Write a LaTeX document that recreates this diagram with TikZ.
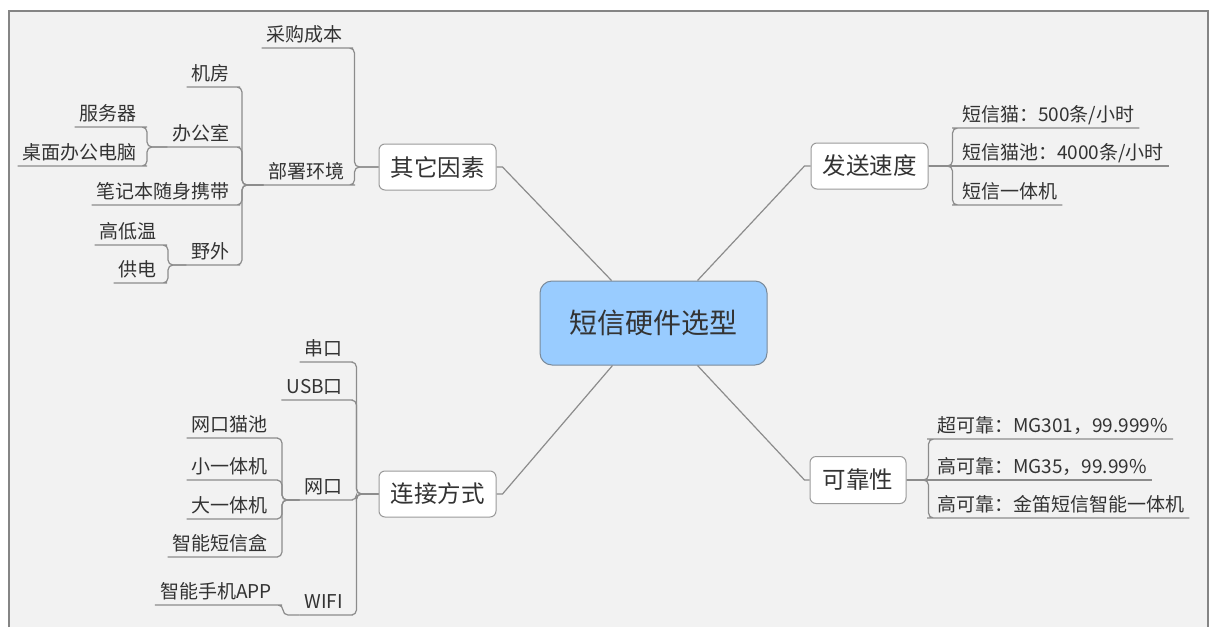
\documentclass[tikz,border=0pt]{standalone}
\usepackage{fontspec}
\setmainfont{Noto Sans CJK SC}
\usetikzlibrary{calc}
\definecolor{linec}{HTML}{8C8C8C}
\definecolor{boxc}{HTML}{9A9A9A}
\definecolor{txtc}{HTML}{333333}
\definecolor{rootfill}{HTML}{99CCFF}
\definecolor{rootline}{HTML}{7A8A9A}
\definecolor{bgc}{HTML}{F2F2F2}
\definecolor{framec}{HTML}{858585}
\begin{document}
\begin{tikzpicture}[x=1pt,y=-1pt,
  conn/.style={draw=linec, line width=1.2pt, rounded corners=5pt},
  mainconn/.style={draw=linec, line width=1.2pt},
  leaf/.style={inner xsep=5pt, inner ysep=3pt, text height=16pt, text depth=3pt,
    font=\fontsize{19}{19}\selectfont, text=txtc},
  topic/.style={draw=boxc, fill=white, rounded corners=6pt, line width=1pt,
    minimum width=117pt, minimum height=46pt, inner sep=0pt,
    font=\fontsize{23.5}{23.5}\selectfont, text=txtc},
  rootnode/.style={draw=rootline, fill=rootfill, rounded corners=12pt, line width=1pt,
    minimum width=227pt, minimum height=84pt, inner sep=0pt,
    font=\fontsize{28}{28}\selectfont, text=txtc}
]
\useasboundingbox (0,0) rectangle (1211,627);
% frame
\fill[bgc] (9,11) rectangle (1208,627);
\draw[framec, line width=1.2pt] (9,627) -- (9,11) -- (1208,11) -- (1208,627);

% root and main topics
\node[rootnode] (root) at (653.5,323) {短信硬件选型};
\node[topic] (b1) at (437.5,167) {其它因素};
\node[topic] (b2) at (869.5,166) {发送速度};
\node[topic] (b3) at (437.5,494) {连接方式};
\node[topic, minimum width=96pt, minimum height=47pt] (b4) at (858,480) {可靠性};

\draw[mainconn] ($(root.north west)+(72,0)$) -- ($(b1.east)+(6,0)$) -- (b1.east);
\draw[mainconn] ($(root.north east)+(-70,0)$) -- ($(b2.west)+(-6,0)$) -- (b2.west);
\draw[mainconn] ($(root.south west)+(73,0)$) -- ($(b3.east)+(6,0)$) -- (b3.east);
\draw[mainconn] ($(root.south east)+(-70,0)$) -- ($(b4.west)+(-5,0)$) -- (b4.west);

% ---- 其它因素
\node[leaf, anchor=south east] (c11) at (348,48) {采购成本};
\node[leaf, anchor=south east] (c12) at (350,185) {部署环境};
\draw[conn] (b1.west) -- ++(-24,0) |- (c11.south east) -- (c11.south west);
\draw[conn] (b1.west) -- ++(-24,0) |- (c12.south east) -- (c12.south west);

\node[leaf, anchor=south east] (c121) at (235,87) {机房};
\node[leaf, anchor=south east] (c122) at (235,147) {办公室};
\node[leaf, anchor=south east] (c123) at (235,205) {笔记本随身携带};
\node[leaf, anchor=south east] (c124) at (235,265) {野外};
\foreach \c in {c121,c122,c123,c124}
  \draw[conn] (c12.south west) -- (242,185) |- (\c.south east) -- (\c.south west);

\node[leaf, anchor=south east] (c1221) at (142,127) {服务器};
\node[leaf, anchor=south east] (c1222) at (142,166) {桌面办公电脑};
\foreach \c in {c1221,c1222}
  \draw[conn] (c122.south west) -- (147,147) |- (\c.south east) -- (\c.south west);

\node[leaf, anchor=south east] (c1241) at (162,245) {高低温};
\node[leaf, anchor=south east] (c1242) at (162,283) {供电};
\foreach \c in {c1241,c1242}
  \draw[conn] (c124.south west) -- (168,265) |- (\c.south east) -- (\c.south west);

% ---- 发送速度
\node[leaf, anchor=south west] (c21) at (957,128) {短信猫：500条/小时};
\node[leaf, anchor=south west] (c22) at (957,166) {短信猫池：4000条/小时};
\node[leaf, anchor=south west] (c23) at (957,205) {短信一体机};
\draw[conn] (b2.east) -- ++(24,0) |- (c21.south west) -- (c21.south east);
\draw[conn] (b2.east) -- (c22.south west) -- (c22.south east);
\draw[conn] (b2.east) -- ++(24,0) |- (c23.south west) -- (c23.south east);

% ---- 可靠性
\node[leaf, anchor=south west] (c41) at (932,439) {超可靠：MG301，99.999\%};
\node[leaf, anchor=south west] (c42) at (932,480) {高可靠：MG35，99.99\%};
\node[leaf, anchor=south west] (c43) at (932,518) {高可靠：金笛短信智能一体机};
\draw[conn] (b4.east) -- ++(22,0) |- (c41.south west) -- (c41.south east);
\draw[conn] (b4.east) -- (c42.south west) -- (c42.south east);
\draw[conn] (b4.east) -- ++(22,0) |- (c43.south west) -- (c43.south east);

% ---- 连接方式
\node[leaf, anchor=south east] (c31) at (348,362) {串口};
\node[leaf, anchor=south east] (c32) at (348,400) {USB口};
\node[leaf, anchor=south east] (c33) at (348,500) {网口};
\node[leaf, anchor=south east] (c34) at (348,615) {WIFI};
\foreach \c in {c31,c32,c33,c34}
  \draw[conn] (b3.west) -- ++(-22,0) |- (\c.south east) -- (\c.south west);

\node[leaf, anchor=south east] (c331) at (273,438) {网口猫池};
\node[leaf, anchor=south east] (c332) at (273,480) {小一体机};
\node[leaf, anchor=south east] (c333) at (273,519) {大一体机};
\node[leaf, anchor=south east] (c334) at (273,557) {智能短信盒};
\foreach \c in {c331,c332,c333,c334}
  \draw[conn] (c33.south west) -- (282,500) |- (\c.south east) -- (\c.south west);

\node[leaf, anchor=south east] (c341) at (277,605) {智能手机APP};
\draw[conn] (c34.south west) -- (283,615) |- (c341.south east) -- (c341.south west);
\end{tikzpicture}
\end{document}
